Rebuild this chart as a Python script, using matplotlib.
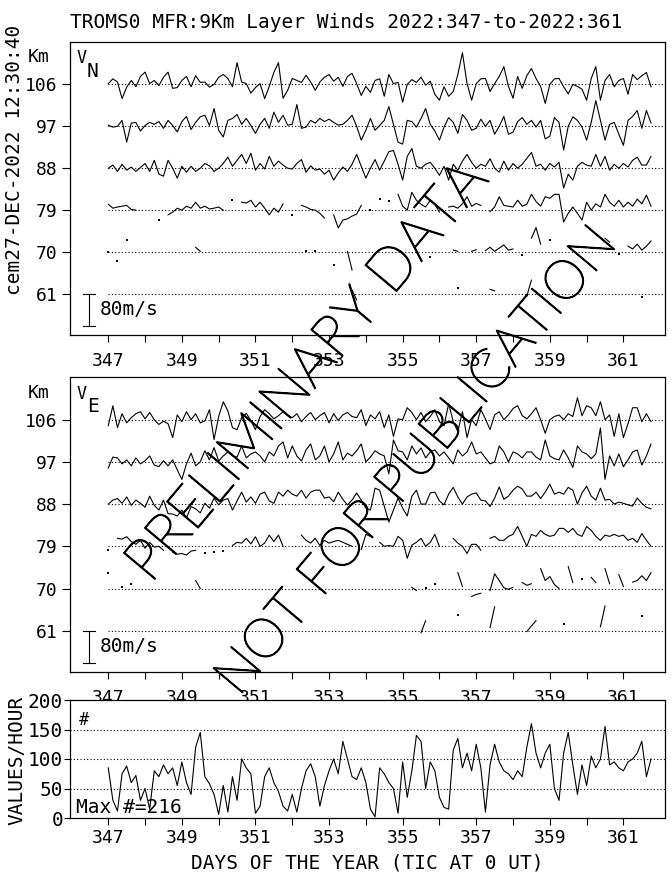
import numpy as np
import matplotlib.pyplot as plt
import matplotlib.patheffects as pe

nan = np.nan

# 3-hourly samples from day 347.0
start_day = 347.0
step_days = 0.125
heights = [106, 97, 88, 79, 70, 61]
km_per_ms = 9.0 / 106.0   # plot scale used for the wind traces

# VN (m/s), one row per day
vn_106 = [2, 14, 6, -36, -7, 10, -6, 20,
          31, 2, 10, -3, 18, 31, -10, -8,
          10, 20, -6, 22, 5, 6, -7, 0,
          18, 25, 15, -6, 55, 6, 2, -22,
          -8, 2, -36, -5, 30, 55, -35, -15,
          15, 10, 5, 23, 6, -15, 6, 18,
          25, 8, 18, -5, 20, 28, 2, -28,
          -5, -20, 10, 14, -30, 25, 2, 5,
          -45, 0, 12, 5, 18, -2, 8, -25,
          -40, -6, -30, -18, 25, 80, 2, -40,
          2, 14, 15, -18, 2, 20, 45, -5,
          -35, 20, -10, 22, 40, 15, -5, -48,
          0, 14, 15, -6, -24, 0, -5, -12,
          -40, 15, 45, -40, 10, 25, -6, 10,
          15, -25, 25, 12, 22, 30, -6]
vn_97 = [3, -2, 0, 15, -40, 8, 10, -12,
         2, 10, 5, 12, -5, 15, 2, -14,
         12, 25, -8, 10, 24, 28, 2, 45,
         -10, -27, 15, 20, 30, 5, 20, 2,
         -18, 5, 20, -5, 36, 10, 28, 3,
         5, 55, -5, -2, 15, 8, 20, 12,
         18, 10, 3, 5, 15, 28, 0, -35,
         -10, 20, -10, 2, 15, 50, 5, -40,
         -45, 15, 12, -2, 20, 45, 5, -12,
         -35, -2, 22, 10, -18, 30, 15, -10,
         -5, 18, 0, 15, -20, 0, 25, -20,
         -15, 12, 22, 5, 15, -2, 15, -32,
         -25, 22, 10, -60, 0, 24, 15, -2,
         -35, 10, 65, 15, -35, 5, 10, -20,
         -48, 15, 25, 40, -5, 40, 8]
vn_88 = [0, 8, -8, 10, -5, 3, -8, 2,
         12, -8, 20, -15, -20, 20, 0, -25,
         5, -10, 5, -8, 0, 12, 6, -8,
         0, 12, 28, 5, 20, 35, 12, 38,
         -5, 12, -2, 30, 5, 18, 8, 0,
         -2, 12, 22, -10, 6, -5, -2, -15,
         -5, -30, -12, 3, -8, 10, 35, 5,
         -25, 0, 22, -5, 18, 42, 45, 10,
         -30, 30, 50, 5, 0, 10, 15, 0,
         -18, 5, -30, 10, -5, 18, 35, 15,
         0, 10, 5, 24, 0, -10, 18, -5,
         12, 0, 10, 25, 40, 5, 10, -5,
         12, 3, 15, -50, -15, -30, 5, 15,
         8, 5, 35, 5, 30, -5, 10, 0,
         12, 3, 20, 28, 8, 8, 30]
vn_79 = [15, 5, 8, 10, 12, 2, 0, nan,
         nan, nan, nan, -25, nan, -12, -5, 5,
         0, 10, 5, 20, 5, 10, 3, 5,
         8, 0, nan, 25, nan, 20, 18, 25,
         8, 20, 5, -12, 5, -5, 16, nan,
         -12, nan, 12, 8, 2, 0, -8, -20,
         nan, -12, -45, -25, -22, -15, -10, 12,
         nan, 0, nan, 28, nan, 22, nan, 40,
         10, 0, 45, 25, 15, 8, 25, 15,
         -5, nan, 8, 10, 5, 16, 34, 10,
         17, 12, nan, -4, 8, 34, 12, 10,
         8, 25, 10, 15, 40, 22, 10, 34,
         30, 40, 40, -30, -8, 8, -8, -25,
         20, 0, 16, 8, 40, 20, 10, 25,
         8, 20, 10, 28, 16, 38, 10]
vn_70 = [0, nan, -22, nan, 30, nan, nan, nan,
         nan, nan, nan, nan, nan, nan, nan, nan,
         nan, nan, nan, 12, 2, nan, nan, nan,
         nan, nan, nan, nan, nan, nan, nan, nan,
         nan, nan, nan, nan, nan, nan, nan, nan,
         nan, nan, nan, 3, nan, 3, nan, nan,
         nan, -33, nan, nan, 2, -45, nan, nan,
         nan, nan, nan, nan, nan, nan, nan, nan,
         nan, nan, nan, nan, nan, nan, -12, nan,
         nan, nan, nan, 5, 2, nan, nan, 2,
         6, nan, 4, 12, 2, 10, 18, 5,
         8, nan, -8, nan, 35, 62, 20, nan,
         30, nan, nan, nan, nan, nan, nan, nan,
         nan, nan, nan, nan, 35, 25, nan, -5,
         nan, 15, 8, 20, 5, 15, 28]
vn_61 = [nan] * 53 + [10, -15] + [nan] * 21 + [15] + [nan] * 6 + [12, 8] + \
        [nan] * 6 + [-5, 35] + [nan] * 23 + [-8, nan, nan]

# VE (m/s)
ve_106 = [-15, 35, -20, 15, -8, 5, 15, 20,
          2, 18, 0, -12, -4, -10, -45, 12,
          -5, 20, 0, 15, -8, -3, 25, -50,
          8, 45, 22, -20, -25, 5, 16, -2,
          -25, 8, 25, 15, 2, 10, 20, 10,
          5, 15, -5, 8, 18, 0, 10, 18,
          -8, 15, -2, 12, 18, 8, 5, 25,
          -15, 12, 2, 20, -20, 12, -42, 2,
          0, 30, 18, 0, 18, -5, 8, 25,
          -5, -15, 40, -5, -30, 20, -45, 0,
          -15, 25, 2, -25, 12, 20, 0, 12,
          28, 35, 10, 2, 15, 30, 0, -34,
          0, 8, 12, 0, 15, 8, 55, 10,
          35, 30, 10, 45, 0, 12, -42, 15,
          -45, -10, 30, 30, -5, 15, -5]
ve_97 = [-15, 12, 10, -5, 5, -10, 10, -5,
         3, 15, -8, -12, 3, -10, 5, -20,
         -44, -5, 22, -10, 0, 28, 5, 36,
         2, 15, 25, 15, 12, 40, 10, 20,
         25, 15, 0, 25, 15, 40, 50, 10,
         40, 15, 2, 30, 45, 5, 15, 40,
         0, 20, 50, 5, 22, 15, 28, 45,
         0, 12, 28, 20, 15, -30, 55, 28,
         25, 5, 40, 20, 35, 10, 25, 30,
         15, 25, 10, -5, 30, 15, 25, 50,
         20, 25, 10, -5, 0, 40, 25, 0,
         25, 20, 10, 25, 25, 12, 5, 55,
         15, 8, 5, 30, 10, -14, 40, 25,
         20, 8, 20, 85, -44, 15, -10, 20,
         -12, 5, 25, 30, -8, 15, 45]
ve_88 = [0, 10, 14, 2, 18, -3, 10, 2,
         -8, 20, -3, -15, 10, -24, -25, -30,
         -15, -35, -6, -12, -22, 2, -10, 15,
         -2, 10, 14, -15, 8, 30, 5, 18,
         2, 25, 30, 8, 2, 30, 20, 35,
         25, 20, 35, 15, 30, 35, 35, 15,
         18, 6, 30, 12, -2, 10, 28, 10,
         -10, -15, 40, 35, -5, -45, -15, 15,
         -10, -30, 20, 35, 0, 0, 28, 30,
         8, -2, 25, 42, 18, 0, 18, 25,
         28, 10, 8, -6, 15, 43, 12, 20,
         35, 45, 38, 20, 20, 30, 14, 30,
         50, 25, 30, 25, 42, 35, 0, 28,
         45, 20, 10, 40, 10, 12, 0, 5,
         2, -2, -5, 15, 2, -8, -12]
ve_79 = [-10, nan, 20, 18, 24, 12, 5, 15,
         -5, 10, -2, 0, -10, nan, -15, -20,
         -18, -22, -12, -10, nan, -18, nan, -15,
         nan, -12, nan, 2, 10, 8, 20, 6,
         24, 0, 8, 28, 12, 28, 0, nan,
         nan, nan, 28, 15, 8, 20, 2, 15,
         8, 12, 15, 10, 5, 0, nan, -8,
         30, 25, nan, 10, 0, 2, 0, 25,
         15, -30, 3, 10, 20, 0, 10, 30,
         0, nan, nan, 20, 8, 0, -18, 5,
         5, -10, nan, 20, 25, 15, 15, 25,
         30, 50, 25, 0, 30, 25, 40, 30,
         25, 28, 45, 45, 35, 45, 30, 25,
         50, 40, 25, 15, 28, 25, 30, 25,
         28, 15, 20, 10, 32, 15, 0]
ve_70 = [40, nan, nan, 5, nan, 12, nan, nan,
         nan, nan, nan, nan, nan, nan, nan, nan,
         nan, nan, nan, 20, 0, nan, nan, nan,
         nan, nan, nan, nan, nan, nan, nan, nan,
         nan, nan, nan, nan, nan, nan, nan, nan,
         nan, nan, nan, nan, nan, nan, nan, nan,
         nan, nan, nan, nan, nan, nan, nan, nan,
         nan, nan, nan, nan, nan, nan, nan, nan,
         nan, nan, 3, -5, nan, 2, nan, 12,
         nan, nan, nan, nan, 40, 5, nan, -20,
         -15, -12, nan, -5, 37, 20, 2, -2,
         3, nan, 15, 8, 12, nan, 50, 20,
         30, 10, 0, nan, 55, 15, nan, 25,
         nan, 28, 15, nan, 50, 12, nan, 35,
         5, nan, 16, 20, 32, 20, 40]
ve_61 = [nan] * 68 + [-5, 25] + [nan] * 6 + [40] + [nan] * 6 + [8, 60] + \
        [nan] * 6 + [-2, 12, 25] + [nan] * 5 + [16] + [nan] * 7 + [10, 62] + \
        [nan] * 7 + [37, nan, nan]

# values per hour
counts = [85, 30, 12, 75, 88, 60, 72, 30,
          50, 15, 80, 70, 90, 75, 85, 55,
          95, 60, 40, 120, 145, 70, 58, 40,
          6, 55, 10, 70, 30, 100, 85, 75,
          8, 20, 70, 85, 60, 45, 20, 12,
          40, 10, 50, 80, 92, 70, 20, 55,
          80, 100, 75, 130, 100, 70, 65, 85,
          60, 15, 2, 85, 75, 60, 50, 8,
          95, 35, 80, 140, 130, 50, 95, 80,
          35, 18, 15, 115, 135, 85, 110, 80,
          125, 85, 10, 90, 125, 95, 80, 75,
          65, 80, 70, 120, 160, 110, 85, 110,
          125, 50, 30, 110, 145, 90, 40, 90,
          55, 105, 85, 100, 155, 90, 95, 85,
          80, 95, 100, 110, 130, 70, 100]

t = start_day + step_days * np.arange(len(counts))

plt.rcParams['font.family'] = 'DejaVu Sans Mono'
W, H = 672, 877
fig = plt.figure(figsize=(W / 100, H / 100), dpi=100)


def px(x, y):
    return x / W, 1 - y / H


xmin, xmax = 345.96, 362.13
left, width = 70 / W, 595 / W
ax1 = fig.add_axes([left, 1 - 335 / H, width, 293 / H])
ax2 = fig.add_axes([left, 1 - 672 / H, width, 295 / H])
ax3 = fig.add_axes([left, 1 - 818 / H, width, 118 / H])

days = np.arange(347, 362)
for ax in (ax1, ax2, ax3):
    ax.set_xlim(xmin, xmax)
    ax.set_xticks(days)
    ax.set_xticklabels([str(d) if d % 2 else '' for d in days])
    ax.tick_params(direction='out', length=5, width=0.8, labelsize=13, pad=7)
    for s in ax.spines.values():
        s.set_linewidth(0.9)
ax3.tick_params(axis='x', pad=3)


def wind_panel(ax, series, comp):
    for h, vals in zip(heights, series):
        v = np.asarray(vals, dtype=float)
        y = h + v * km_per_ms
        ax.plot([347, xmax], [h, h], color='k', lw=0.8, ls=(0, (1, 2)))
        ax.plot(t, y, color='k', lw=0.8)
        have = ~np.isnan(v)
        before = np.r_[False, have[:-1]]
        after = np.r_[have[1:], False]
        lone = have & ~before & ~after
        ax.plot(t[lone], y[lone], 's', color='k', ms=1.8, mew=0)
    ax.set_ylim(52.2, 115.1)
    ax.set_yticks(heights)
    ax.set_yticklabels([str(h) for h in heights])
    ax.tick_params(axis='y', length=6, pad=3)
    # 80 m/s scale bar
    bar = 80 * km_per_ms
    ax.plot([346.48, 346.48], [61, 61 - bar], color='k', lw=0.8)
    ax.plot([346.32, 346.64], [61, 61], color='k', lw=0.8)
    ax.plot([346.32, 346.64], [61 - bar, 61 - bar], color='k', lw=0.8)
    ax.text(346.76, 61 - bar / 2, '80m/s', fontsize=14, va='center', ha='left')
    ax.text(0.011, 0.944, 'V', transform=ax.transAxes, fontsize=12,
            va='center', ha='left')
    ax.text(0.028, 0.900, comp, transform=ax.transAxes, fontsize=14,
            va='center', ha='left')


wind_panel(ax1, [vn_106, vn_97, vn_88, vn_79, vn_70, vn_61], 'N')
wind_panel(ax2, [ve_106, ve_97, ve_88, ve_79, ve_70, ve_61], 'E')

ax3.plot(t, counts, color='k', lw=0.8)
for g in (50, 100, 150):
    ax3.plot([xmin, xmax], [g, g], color='k', lw=0.8, ls=(0, (1, 2)))
ax3.set_ylim(0, 200)
ax3.set_yticks([0, 50, 100, 150, 200])
ax3.tick_params(axis='y', length=4, pad=1, labelsize=14)
ax3.text(0.015, 0.83, '#', transform=ax3.transAxes, fontsize=12, va='center')
ax3.text(0.01, 0.09, 'Max #=216', transform=ax3.transAxes, fontsize=14,
         va='center')

fig.text(*px(70, 22), 'TROMS0 MFR:9Km Layer Winds 2022:347-to-2022:361',
         fontsize=14, ha='left', va='center')
fig.text(*px(15, 160), 'cem27-DEC-2022 12:30:40', fontsize=14, rotation=90,
         ha='center', va='center')
fig.text(*px(39, 57), 'Km', fontsize=13, ha='center', va='center')
fig.text(*px(39, 393), 'Km', fontsize=13, ha='center', va='center')
fig.text(*px(17, 760), 'VALUES/HOUR', fontsize=14, rotation=90,
         ha='center', va='center')
fig.text(*px(367, 863), 'DAYS OF THE YEAR (TIC AT 0 UT)', fontsize=14,
         ha='center', va='center')

# watermark: thin letters, darkened with a narrow stroke
wm = dict(family=['Lato', 'DejaVu Sans'], fontweight=200, color='k',
          ha='center', va='center', rotation_mode='anchor',
          path_effects=[pe.withStroke(linewidth=1.1, foreground='k')])
fig.text(*px(308, 372), 'PRELIMINARY DATA', fontsize=42, rotation=50, **wm)
fig.text(*px(417, 462), 'NOT FOR PUBLICATION', fontsize=39, rotation=50, **wm)

fig.savefig('out.png', dpi=100)
